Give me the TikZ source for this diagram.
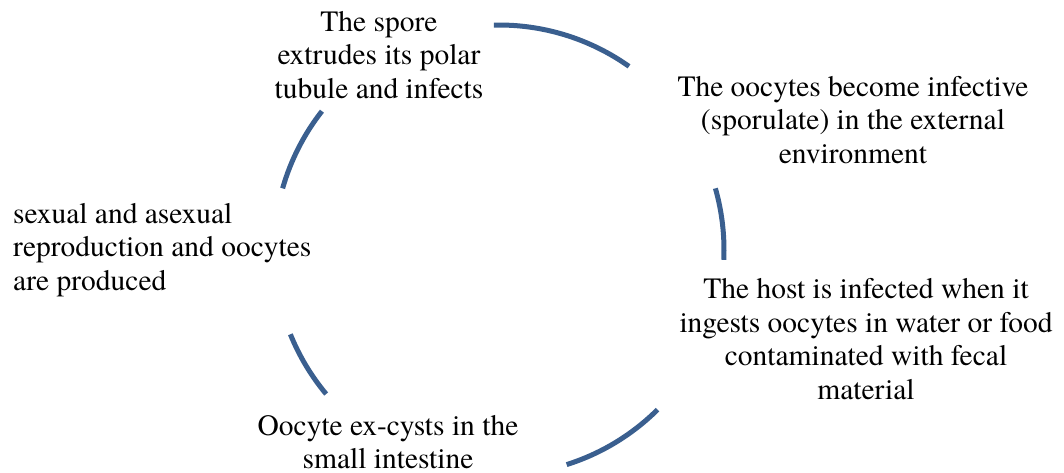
\documentclass[tikz,border=0pt]{standalone}
\usepackage{fontspec}
\setmainfont{texgyretermes}[Extension=.otf, UprightFont=*-regular, BoldFont=*-bold, ItalicFont=*-italic, BoldItalicFont=*-bolditalic]
\definecolor{arcblue}{RGB}{58,95,143}
\begin{document}
\begin{tikzpicture}[x=1pt,y=1pt,
  lbl/.style={inner sep=0pt, align=center, font=\fontsize{29.5}{33.5}\selectfont},
  cyc/.style={draw=arcblue, line width=5pt}]
\useasboundingbox (0,0) rectangle (1064,472);
\coordinate (c) at (499,222);
\def\R{225}
\node[lbl] (spore) at (379,417) {The spore\\extrudes its polar\\tubule and infects};
\node[lbl] (infective) at (853,352) {The oocytes become infective\\(sporulate) in the external\\environment};
\node[lbl] (host) at (866,133) {The host is infected when it\\ingests oocytes in water or food\\contaminated with fecal\\material};
\node[lbl] (excyst) at (388,30) {Oocyte ex-cysts in the\\small intestine};
\node[lbl, align=left, anchor=west] (sexual) at (13,222) {sexual and asexual\\reproduction and oocytes\\are produced};
\draw[cyc] ([shift={(91.3:\R)}]c) arc[start angle=91.3, end angle=54.7, radius=\R];
\draw[cyc] ([shift={(15.9:\R)}]c) arc[start angle=15.9, end angle=-2.5, radius=\R];
\draw[cyc] ([shift={(-45.2:\R)}]c) arc[start angle=-45.2, end angle=-72.5, radius=\R];
\draw[cyc] ([shift={(-140.2:\R)}]c) arc[start angle=-140.2, end angle=-158, radius=\R];
\draw[cyc] ([shift={(164.1:\R)}]c) arc[start angle=164.1, end angle=141.9, radius=\R];
\end{tikzpicture}
\end{document}
